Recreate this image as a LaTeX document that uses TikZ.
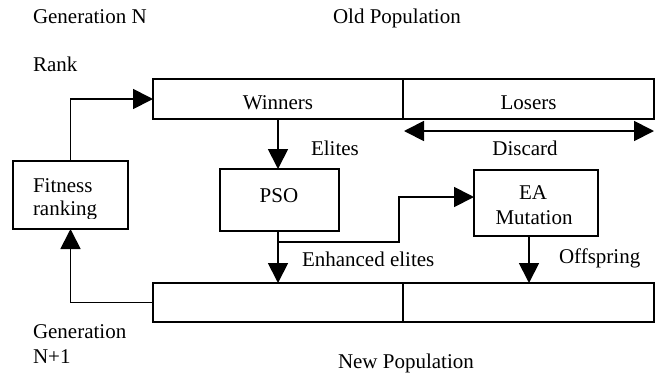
\documentclass[tikz,border=0pt]{standalone}
\usepackage{fontspec}
\setmainfont{Liberation Serif}
\usetikzlibrary{arrows.meta}
\begin{document}
\begin{tikzpicture}[x=1pt,y=-1pt,
  font=\fontsize{21}{25}\selectfont,
  line width=1.8pt,
  box/.style={draw,line width=1.8pt,inner sep=0pt,outer sep=0pt},
  txt/.style={inner sep=0pt,outer sep=0pt,anchor=base west},
  ctxt/.style={inner sep=0pt,outer sep=0pt,anchor=base},
  arr/.style={-{Triangle[length=20pt,width=20pt]}},
  darr/.style={{Triangle[length=20pt,width=20pt]}-{Triangle[length=20pt,width=20pt]}}]
\useasboundingbox (0,0) rectangle (663,373);
% population boxes
\node[box,minimum width=250pt,minimum height=40pt] (win) at (278,99) {};
\node[box,minimum width=251pt,minimum height=40pt] (los) at (528.5,99) {};
\node[box,minimum width=250pt,minimum height=39pt] (newl) at (278,302.5) {};
\node[box,minimum width=251pt,minimum height=39pt] (newr) at (528.5,302.5) {};
\node[ctxt] (wint) at (278,109) {Winners};
\node[ctxt] (lost) at (528.5,109) {Losers};
% process boxes
\node[box,minimum width=115pt,minimum height=68pt] (fit) at (70.5,195) {};
\begin{scope}
\clip (14,162) rectangle (127,218);
\node[txt] (fitt1) at (33,192) {Fitness};
\node[txt] (fitt2) at (33,215) {ranking};
\end{scope}
\node[box,minimum width=119pt,minimum height=62pt] (pso) at (279.5,200) {};
\node[ctxt] (psot) at (279,202) {PSO};
\node[box,minimum width=124pt,minimum height=66pt] (ea) at (536,203) {};
\node[ctxt] (eat1) at (533,199) {EA};
\node[ctxt] (eat2) at (534,224) {Mutation};
% free labels
\node[txt] (genn) at (33,23) {Generation N};
\node[txt] (oldp) at (333,23) {Old Population};
\node[txt] (rank) at (33,71) {Rank};
\node[txt] (elit) at (311,155) {Elites};
\node[ctxt] (disc) at (525,155) {Discard};
\node[txt] (enh) at (302,266) {Enhanced elites};
\node[txt] (offs) at (559,263) {Offspring};
\node[txt] (gen1) at (33,338) {Generation};
\node[txt] (gen2) at (33,363) {N+1};
\node[txt] (newp) at (338,368) {New Population};
% connectors
\coordinate (dl) at (404,131);
\coordinate (dr) at (654,131);
\draw[darr] (dl) -- (dr);
\draw[arr] (fit.north) |- (win.west);
\draw[arr] (win.south) -- (win.south |- pso.north);
\draw[arr] (pso.south -| win.south) -- (newl.north -| win.south);
\coordinate (br) at (278,242);
\coordinate (bx) at (399,242);
\coordinate (by) at (399,197);
\draw[arr] (br) -- (bx) -- (by) -- (by -| ea.west);
\coordinate (eo) at (529,236);
\draw[arr] (eo) -- (eo |- newr.north);
\draw[arr] (newl.west) -| (fit.south);
\end{tikzpicture}
\end{document}
